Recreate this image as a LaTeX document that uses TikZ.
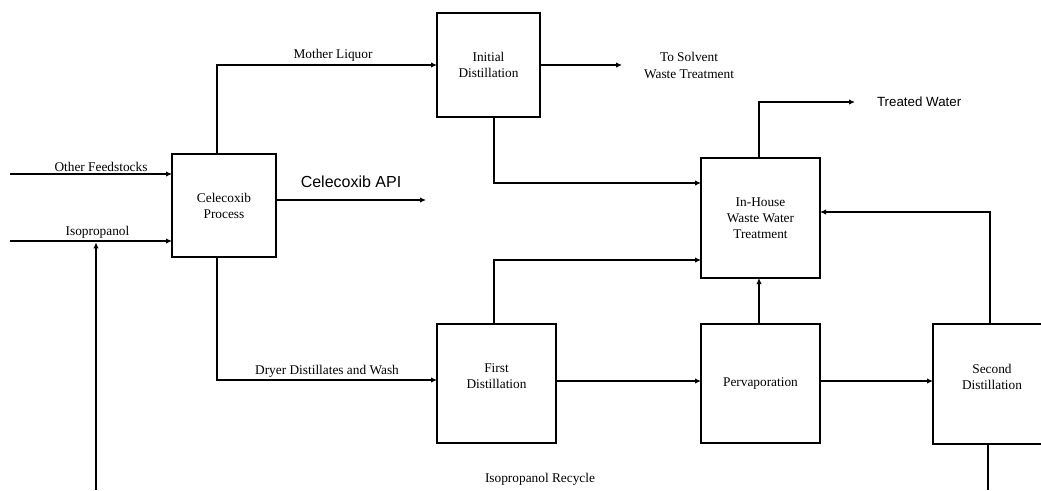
\documentclass[tikz,border=0pt]{standalone}
\usepackage{fontspec}
\setmainfont{Liberation Serif}
\newfontfamily\arialf{Liberation Sans}
\usetikzlibrary{arrows.meta}
\begin{document}
\begin{tikzpicture}[x=0.75pt,y=-0.75pt,
  every node/.style={inner sep=0pt, outer sep=0pt},
  procbox/.style={draw, line width=0.8pt, rectangle, align=center,
    font=\fontsize{10}{12}\selectfont},
  txt/.style={align=center, font=\fontsize{10}{12}\selectfont},
  conn/.style={line width=0.8pt},
  arr/.style={line width=0.8pt, -{Latex[length=4.5pt,width=4pt]}}]
\clip (0,0) rectangle (1041,490);
\fill[white] (0,0) rectangle (1041,490);
% boxes
\node[procbox, minimum width=78pt, minimum height=77.25pt] (cp) at (224,205.5) {Celecoxib\\Process};
\node[procbox, minimum width=77.25pt, minimum height=78pt] (id) at (488.5,65) {Initial\\Distillation};
\node[procbox, minimum width=89.25pt, minimum height=90pt] (ih) at (760.5,218) {In-House\\Waste Water\\Treatment};
\node[procbox, minimum width=89.25pt, minimum height=89.25pt] (fd) at (496.5,383.5) {};
\node[procbox, minimum width=89.25pt, minimum height=89.25pt] (pv) at (760.5,383.5) {Pervaporation};
\node[procbox, minimum width=88.5pt, minimum height=90pt] (sd) at (992,384) {};
\node[txt] (fdt) at ([yshift=5.6pt]fd.center) {First\\Distillation};
\node[txt] (sdt) at ([yshift=5.6pt]sd.center) {Second\\Distillation};
% coordinates
\coordinate (of) at (10,174);
\coordinate (ip) at (10,241);
\coordinate (rc) at (96,490);
\coordinate (ml) at (217,65);
\coordinate (ts) at (622,65);
\coordinate (api) at (426,200);
\coordinate (idb) at (494,183);
\coordinate (dd) at (217,380);
\coordinate (ft) at (494,260);
\coordinate (h1) at (0,381);
\coordinate (v1) at (759,0);
\coordinate (st) at (990,212);
\coordinate (tw) at (855,102);
\coordinate (sb) at (988,490);
% connectors
\draw[arr] (of) -- (cp.west |- of);
\draw[arr] (ip) -- (cp.west |- ip);
\draw[arr, shorten >=1pt] (rc) -- (rc |- ip);
\draw[arr] (cp.north -| ml) |- (id.west);
\draw[arr] (id.east) -- (ts);
\draw[arr] (cp.east |- api) -- (api);
\draw[arr] (id.south -| idb) |- (ih.west |- idb);
\draw[arr] (cp.south -| dd) |- (fd.west |- dd);
\draw[arr] (fd.north -| ft) |- (ih.west |- ft);
\draw[arr] (fd.east |- h1) -- (pv.west |- h1);
\draw[arr] (pv.east |- h1) -- (sd.west |- h1);
\draw[arr] (pv.north -| v1) -- (ih.south -| v1);
\draw[arr] (sd.north -| st) |- (ih.east |- st);
\draw[arr] (ih.north -| v1) |- (tw);
\draw[conn] (sd.south -| sb) -- (sb);
% labels
\node[txt, anchor=base] (lof) at (101,171) {Other Feedstocks};
\node[txt, anchor=base] (lip) at (97.5,235) {Isopropanol};
\node[txt, anchor=base] (lml) at (333,58.5) {Mother Liquor};
\node[anchor=base, font=\arialf\fontsize{12}{14}\selectfont] (lapi) at (351,187) {Celecoxib API};
\node[txt, anchor=base] (ldd) at (327,374.5) {Dryer Distillates and Wash};
\node[txt, anchor=base] (lts1) at (689,61.5) {To Solvent};
\node[txt, anchor=base] (lts2) at (689,78) {Waste Treatment};
\node[anchor=base west, font=\arialf\fontsize{10}{12}\selectfont] (ltw) at (877,106) {Treated Water};
\node[txt, anchor=base] (lrc) at (540,482) {Isopropanol Recycle};
\end{tikzpicture}
\end{document}
